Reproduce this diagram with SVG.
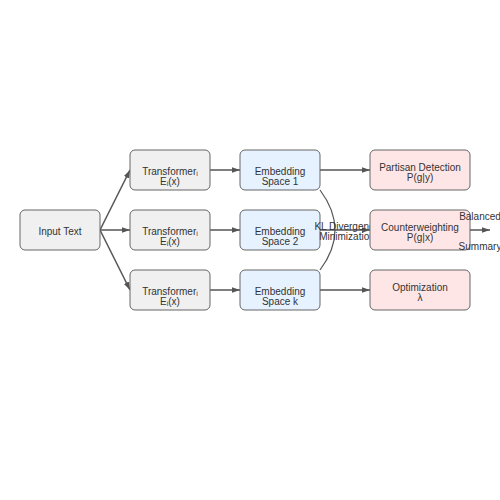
<svg xmlns="http://www.w3.org/2000/svg" width="500" height="500" viewBox="0 0 500 500">
<defs>
<marker id="arr" viewBox="0 0 10 10" refX="10" refY="5" markerWidth="8" markerHeight="8" orient="auto" markerUnits="userSpaceOnUse">
<path d="M0,1.5 L10,5 L0,8.5 z" fill="#555"/>
</marker>
<style>
text{font-family:"Liberation Sans",Arial,sans-serif;font-size:10px;fill:#333;text-anchor:middle}
.n rect{stroke:#666;stroke-width:1}
.g rect{fill:#f0f0f0}
.b rect{fill:#e6f2ff}
.p rect{fill:#ffe6e6}
.e{stroke:#555;stroke-width:1.5;fill:none}
</style>
</defs>
<rect width="500" height="500" fill="#fff"/>
<g id="connectors">
<path class="e" d="M100,230 L130,170" marker-end="url(#arr)"/>
<path class="e" d="M100,230 L130,230" marker-end="url(#arr)"/>
<path class="e" d="M100,230 L130,290" marker-end="url(#arr)"/>
<path class="e" d="M210,170 L240,170" marker-end="url(#arr)"/>
<path class="e" d="M210,230 L240,230" marker-end="url(#arr)"/>
<path class="e" d="M210,290 L240,290" marker-end="url(#arr)"/>
<path class="e" d="M320,170 L370,170" marker-end="url(#arr)"/>
<path class="e" d="M320,230 L370,230" marker-end="url(#arr)"/>
<path class="e" d="M320,290 L370,290" marker-end="url(#arr)"/>
<path class="e" d="M320,190 Q350,230 320,270" style="stroke-width:1.2"/>
<path class="e" d="M470,230 L490,230" marker-end="url(#arr)"/>
</g>
<g id="input" class="n g"><rect x="20" y="210" width="80" height="40" rx="5"/><text x="60" y="235">Input Text</text></g>
<g id="t1" class="n g"><rect x="130" y="150" width="80" height="40" rx="5"/><text x="170" y="174.5">Transformerᵢ</text><text x="170" y="184.5">Eᵢ(x)</text></g>
<g id="t2" class="n g"><rect x="130" y="210" width="80" height="40" rx="5"/><text x="170" y="234.5">Transformerᵢ</text><text x="170" y="244.5">Eᵢ(x)</text></g>
<g id="t3" class="n g"><rect x="130" y="270" width="80" height="40" rx="5"/><text x="170" y="294.5">Transformerᵢ</text><text x="170" y="304.5">Eᵢ(x)</text></g>
<g id="e1" class="n b"><rect x="240" y="150" width="80" height="40" rx="5"/><text x="280" y="174.5">Embedding</text><text x="280" y="184.5">Space 1</text></g>
<g id="e2" class="n b"><rect x="240" y="210" width="80" height="40" rx="5"/><text x="280" y="234.5">Embedding</text><text x="280" y="244.5">Space 2</text></g>
<g id="e3" class="n b"><rect x="240" y="270" width="80" height="40" rx="5"/><text x="280" y="294.5">Embedding</text><text x="280" y="304.5">Space k</text></g>
<g id="kl-label">
<text x="347" y="230">KL Divergence</text>
<text x="347" y="240">Minimization</text>
</g>
<g id="pd" class="n p"><rect x="370" y="150" width="100" height="40" rx="5"/><text x="420" y="170.5">Partisan Detection</text><text x="420" y="180.5">P(g|y)</text></g>
<g id="cw" class="n p"><rect x="370" y="210" width="100" height="40" rx="5"/><text x="420" y="230.5">Counterweighting</text><text x="420" y="240.5">P(g|x)</text></g>
<g id="opt" class="n p"><rect x="370" y="270" width="100" height="40" rx="5"/><text x="420" y="290.5">Optimization</text><text x="420" y="300.5">λ</text></g>
<g id="out-label">
<text x="480" y="220">Balanced</text>
<text x="480" y="250">Summary</text>
</g>
</svg>
